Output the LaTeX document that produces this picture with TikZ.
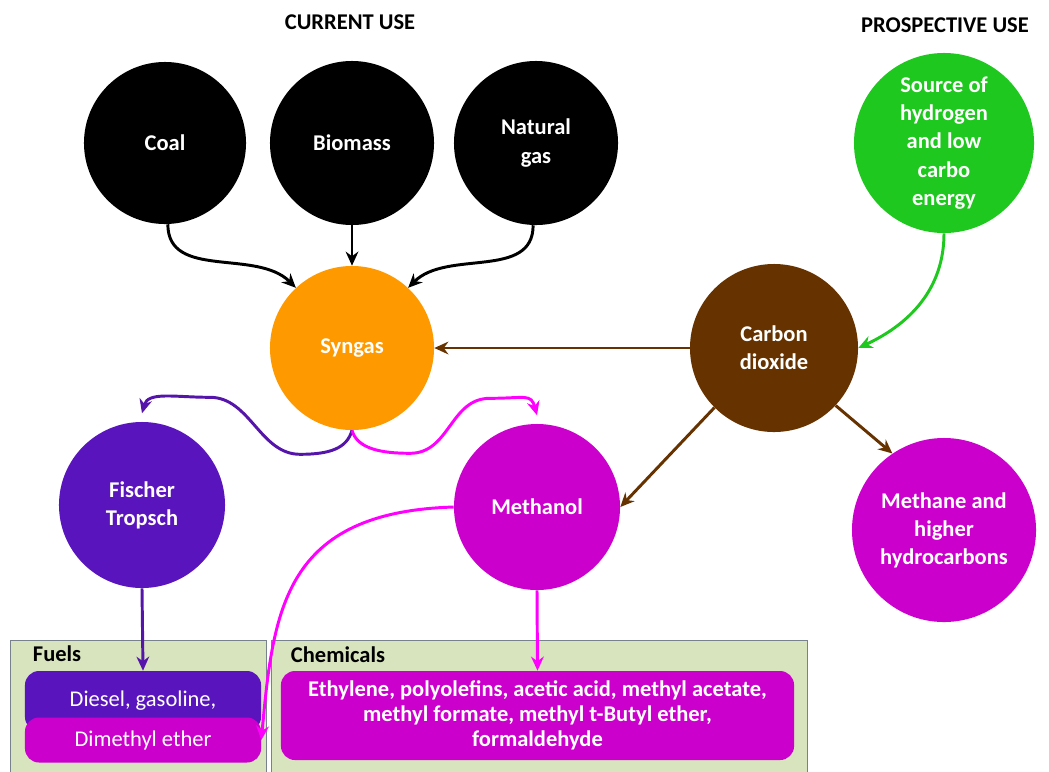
\documentclass[tikz,border=0pt]{standalone}
\usepackage{fontspec}
\setmainfont{Carlito}
\usetikzlibrary{arrows.meta}
\definecolor{syngasorange}{RGB}{255,153,0}
\definecolor{cobrown}{RGB}{102,51,0}
\definecolor{hgreen}{RGB}{30,200,30}
\definecolor{ftpurple}{RGB}{90,20,190}
\definecolor{ftline}{RGB}{85,20,170}
\definecolor{mmagenta}{RGB}{204,0,204}
\definecolor{mline}{RGB}{255,0,255}
\definecolor{panelgreen}{RGB}{215,228,189}
\definecolor{panelgray}{RGB}{120,130,140}
\tikzset{
  blob/.style={circle, inner sep=0pt, align=center, text=white,
    font=\bfseries\fontsize{16}{20}\selectfont},
  product/.style={rounded corners=10pt, inner sep=0pt, align=center, text=white},
  head/.style={font=\bfseries\fontsize{16}{20}\selectfont},
  link/.style={line width=2.1pt, -{Stealth[length=10pt,width=9pt]}},
  panel/.style={fill=panelgreen, draw=panelgray, line width=0.6pt}
}

\begin{document}
\begin{tikzpicture}[x=0.025cm, y=-0.025cm]
  \useasboundingbox (0,0) rectangle (1049,771);
  % headings
  \node[head] (curhead) at (350,22) {CURRENT USE};
  \node[head] (prohead) at (945,25) {PROSPECTIVE USE};

  % feedstocks
  \node[blob, fill=black, minimum size=4.05cm] (coal) at (165,143) {Coal};
  \node[blob, fill=black, minimum size=4.1cm] (biomass) at (352,143) {Biomass};
  \node[blob, fill=black, minimum size=4.1cm] (natgas) at (536,143) {Natural\\gas};
  \node[blob, fill=hgreen, minimum size=4.5cm] (hsource) at (944,143) {Source of\\hydrogen\\and low\\carbo\\energy};

  \node[blob, fill=syngasorange, minimum size=4.1cm] (syngas) at (352,348) {Syngas};
  \node[blob, fill=cobrown, minimum size=4.2cm] (co2) at (774,348) {Carbon\\dioxide};
  \node[blob, fill=ftpurple, minimum size=4.15cm] (fischer) at (142,505) {Fischer\\Tropsch};
  \node[blob, fill=mmagenta, minimum size=4.15cm] (methanol) at (537,507) {Methanol};
  \node[blob, fill=mmagenta, minimum size=4.6cm] (methane) at (944,530) {Methane and\\higher\\hydrocarbons};

  % product panels
  \begin{scope}
    \clip (0,0) rectangle (1049,771);
    \draw[panel] (10,640) rectangle (266,790);
    \draw[panel] (271,640) rectangle (807,790);
  \end{scope}
  \node[head, anchor=west] (fuelslabel) at (28,654) {Fuels};
  \node[head, anchor=west] (chemlabel) at (286,655) {Chemicals};

  \node[product, fill=ftpurple, minimum width=5.9cm, minimum height=1.5cm,
    font=\fontsize{16}{20}\selectfont] (diesel) at (143,701) {Diesel, gasoline,};
  \node[product, fill=mmagenta, minimum width=5.9cm, minimum height=1.125cm,
    font=\fontsize{16}{20}\selectfont] (dme) at (143,740) {Dimethyl ether};
  \node[product, fill=mmagenta, minimum width=12.825cm, minimum height=2.225cm,
    font=\bfseries\fontsize{16}{17.8}\selectfont] (chem) at (537.5,715.5)
    {Ethylene, polyolefins, acetic acid, methyl acetate,\\methyl formate, methyl t-Butyl ether,\\formaldehyde};

  % connectors
  \draw[link] (coal.-88) to[out=-90, in=135] (syngas.133);
  \draw[link] (biomass) -- (syngas);
  \draw[link] (natgas.-92) to[out=-90, in=45] (syngas.47);
  \draw[link, cobrown] (co2) -- (syngas);
  \draw[link, hgreen] (hsource.south) to[out=-90, in=25] (co2.east);
  \draw[link, cobrown] (co2.-135) -- (methanol.east);
  \draw[link, cobrown] (co2.-43) -- (methane.124);
  \draw[link, ftline] (syngas.south) .. controls +(-5,18) and +(30,0) .. ++(-52,24)
    .. controls +(-40,0) and +(40,0) .. ++(-90,-57)
    .. controls +(-35,0) and +(6,-22) .. ([yshift=6pt]fischer.north);
  \draw[link, mline] (syngas.south) .. controls +(5,18) and +(-30,0) .. ++(58,23)
    .. controls +(40,0) and +(-40,0) .. ++(80,-55)
    .. controls +(35,0) and +(-6,-22) .. ([yshift=6pt]methanol.north);
  \draw[link, ftline] (fischer.south) -- (diesel.north);
  \draw[link, mline] (methanol.south) -- (chem.north);
  \draw[link, mline] (methanol.west) .. controls +(-170,5) and +(12,-130) .. (dme.east);
\end{tikzpicture}
\end{document}
